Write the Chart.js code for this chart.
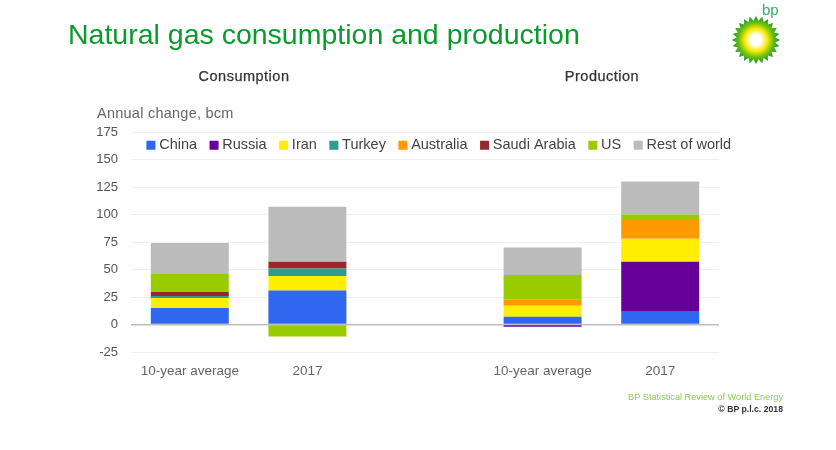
<!DOCTYPE html>
<html><head><meta charset="utf-8">
<style>
html,body{margin:0;padding:0;background:#fff;width:836px;height:450px;overflow:hidden}
#wrap{position:relative;width:836px;height:450px;filter:blur(0.45px)}
canvas{position:absolute;left:0;top:0}
.t{position:absolute;font-family:"Liberation Sans",Arial,sans-serif;white-space:nowrap}
</style>
<script src="https://cdn.jsdelivr.net/npm/chart.js@4/dist/chart.umd.min.js"></script>
</head><body>
<div id="wrap">
<canvas id="c" width="836" height="450"></canvas>
<div class="t" style="left:68px;top:18px;font-size:28.5px;color:#0b9a2c">Natural gas consumption and production</div>
<div class="t" style="left:144px;width:200px;text-align:center;top:68px;font-size:14.5px;letter-spacing:0.5px;color:#333;-webkit-text-stroke:0.25px #333">Consumption</div>
<div class="t" style="left:502px;width:200px;text-align:center;top:68px;font-size:14.5px;letter-spacing:0.5px;color:#333;-webkit-text-stroke:0.25px #333">Production</div>
<div class="t" style="left:97px;top:105px;font-size:14.5px;letter-spacing:0.25px;color:#666">Annual change, bcm</div>
<div class="t" style="right:53px;top:392px;font-size:9.2px;color:#8fcb55">BP Statistical Review of World Energy</div>
<div class="t" style="right:53px;top:404px;font-size:8.7px;color:#333;font-weight:bold">© BP p.l.c. 2018</div>
<div class="t" style="left:762px;top:1px;font-size:15px;color:#35b060">bp</div>
<svg style="position:absolute;left:730px;top:14px" width="52" height="52" viewBox="-26 -26 52 52">
<defs><radialGradient id="g"><stop offset="0" stop-color="#fff"/><stop offset="0.22" stop-color="#fff"/><stop offset="0.48" stop-color="#f6ea00"/><stop offset="0.72" stop-color="#6cbe10"/><stop offset="1" stop-color="#0a9a2a"/></radialGradient></defs>
<polygon id="sun" fill="url(#g)"/>
</svg>
</div>
<script>
const categories = ['10-year average', '2017', '', '10-year average', '2017'];
const tickValues = [175, 150, 125, 100, 75, 50, 25, 0, -25];
const china     = [15, 31, null, 7, 11.5];
const russia    = [0, 0, null, -2, 45.5];
const iran      = [9, 13, null, 10, 21];
const turkey    = [2, 7, null, 0, 0];
const australia = [0, 0, null, 5.5, 17];
const saudi     = [3.5, 6, null, 0, 0];
const us        = [16.5, -11, null, 22.5, 5];
const rest      = [28, 50, null, 25, 30];

const pts = [];
for (let i = 0; i < 48; i++) {
  const r = i % 2 ? 19.5 : 24, a = i * Math.PI / 24;
  pts.push((r * Math.sin(a)).toFixed(2) + ',' + (-r * Math.cos(a)).toFixed(2));
}
document.getElementById('sun').setAttribute('points', pts.join(' '));

const FONT = '"Liberation Sans", Arial, sans-serif';
const ds = (label, data, color) => ({label, data, backgroundColor: color, borderWidth: 0, stack: 's', categoryPercentage: 1, barPercentage: 0.663});

// Lets the legend sit inside the plot without taking layout space.
const legendOverlay = {
  id: 'legendOverlay',
  beforeLayout(chart) {
    const l = chart.legend;
    if (l && !l._wrapped) {
      const fit = l.fit;
      l.fit = function () { fit.call(this); this.height = 0; };
      l._wrapped = true;
    }
  },
  afterLayout(chart) {
    const l = chart.legend;
    l.top -= 10;
    l.height = 40;
    l.bottom = l.top + 40;
    l.left += 81;
    l.right += 81;
  }
};

new Chart(document.getElementById('c'), {
  type: 'bar',
  data: {labels: categories, datasets: [
    ds('China', china, '#2f67f0'),
    ds('Russia', russia, '#660099'),
    ds('Iran', iran, '#ffee00'),
    ds('Turkey', turkey, '#2f9a8e'),
    ds('Australia', australia, '#ff9900'),
    ds('Saudi Arabia', saudi, '#99282c'),
    ds('US', us, '#99cc00'),
    ds('Rest of world', rest, '#bbbbbb')
  ]},
  plugins: [legendOverlay],
  options: {
    responsive: false, animation: false,
    layout: {padding: {top: 132, right: 117, bottom: 0, left: 0}},
    plugins: {
      tooltip: {enabled: false},
      legend: {
        position: 'top', align: 'center',
        labels: {usePointStyle: true, pointStyle: 'rect', boxWidth: 2, boxHeight: 9, padding: 16, color: '#444', font: {family: FONT, size: 14.5}}
      }
    },
    scales: {
      x: {
        stacked: true,
        grid: {display: false}, border: {display: false},
        ticks: {color: '#666', font: {family: FONT, size: 13.5}, padding: 3, maxRotation: 0, autoSkip: false},
        afterFit(s) { s.height = 98; }
      },
      y: {
        stacked: true, min: -25, max: 175,
        afterBuildTicks(s) { s.ticks = tickValues.map(v => ({value: v})); },
        grid: {
          drawTicks: false,
          color: c => c.tick && c.tick.value === 0 ? '#bdbdbd' : '#efefef',
          lineWidth: c => c.tick && c.tick.value === 0 ? 1.6 : 1
        },
        border: {display: false},
        ticks: {color: '#555', font: {family: FONT, size: 13}, padding: 13},
        afterFit(s) { s.width = 131; }
      }
    }
  }
});
</script>
</body></html>
